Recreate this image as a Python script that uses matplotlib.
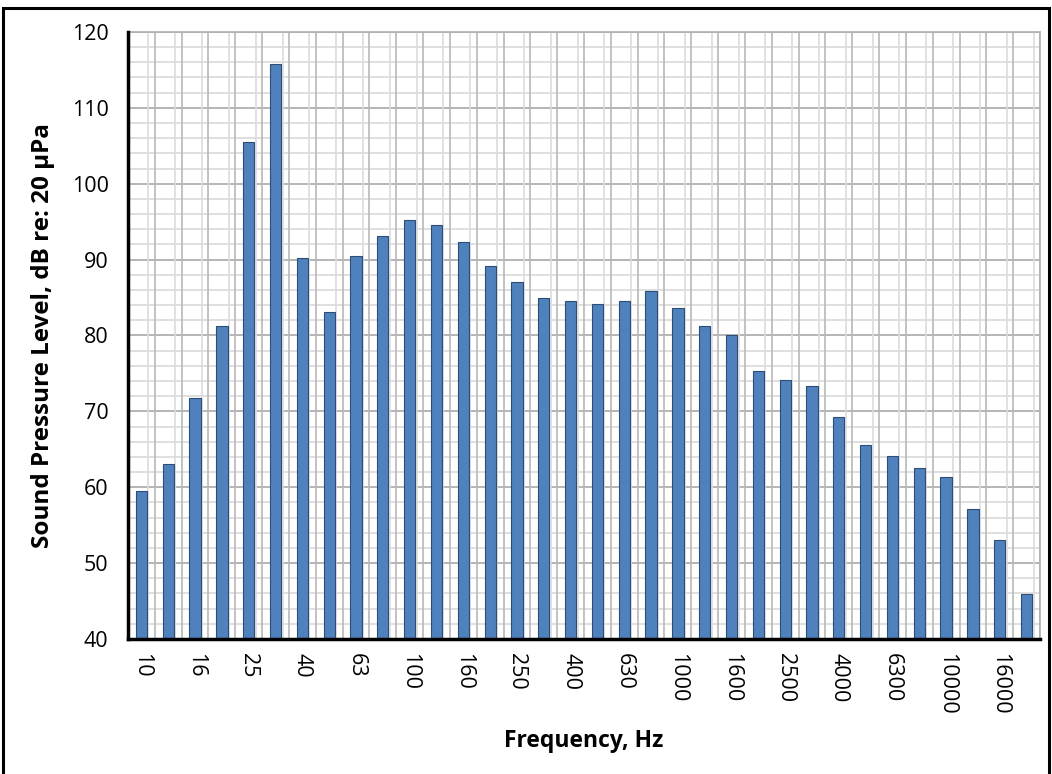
import matplotlib
matplotlib.use("Agg")
import matplotlib.pyplot as plt
from matplotlib.patches import Rectangle
import numpy as np

freqs = ["10", "12.5", "16", "20", "25", "31.5", "40", "50", "63", "80", "100", "125",
         "160", "200", "250", "315", "400", "500", "630", "800", "1000", "1250", "1600",
         "2000", "2500", "3150", "4000", "5000", "6300", "8000", "10000", "12500",
         "16000", "20000"]
spl = [59.5, 63.0, 71.8, 81.3, 105.5, 115.8, 90.2, 83.1, 90.5, 93.1, 95.2, 94.6,
       92.3, 89.1, 87.1, 85.0, 84.6, 84.2, 84.6, 85.8, 83.6, 81.2, 80.0,
       75.3, 74.2, 73.3, 69.2, 65.6, 64.1, 62.5, 61.3, 57.1,
       53.0, 45.9]
y_ticks = [40, 50, 60, 70, 80, 90, 100, 110, 120]

plt.rcParams['font.family'] = ['Open Sans', 'DejaVu Sans']

fig = plt.figure(figsize=(10.52, 7.74), dpi=100)
ax = fig.add_axes([0.1217, 0.1744, 0.9886 - 0.1217, 0.9587 - 0.1744])

x = np.arange(len(freqs))
ax.set_xlim(-0.5, len(freqs) - 0.5)
ax.set_ylim(40, 120)

# grid
for yv in np.arange(40, 121, 2):
    major = (yv % 10 == 0)
    ax.axhline(yv, color='#b0b0b0' if major else '#d9d9d9', lw=1.3 if major else 1.2, zorder=0)
for xb in np.arange(-0.5, len(freqs), 1.0):
    ax.axvline(xb, color='#b8b8b8', lw=1.2, zorder=0)
    ax.axvline(xb - 0.24, color='#dcdcdc', lw=1.2, zorder=0)

ax.bar(x, [v - 40 for v in spl], bottom=40, width=0.42, color='#4f81bd',
       edgecolor='#2c4d75', linewidth=0.8, zorder=3)

ax.set_yticks(y_ticks)
ax.set_yticklabels([str(t) for t in y_ticks], fontsize=15.5)
ax.set_xticks(x[::2])
ax.set_xticklabels(freqs[::2], rotation=270, fontsize=15.5, va='top', ha='center')
ax.tick_params(axis='x', length=0, pad=10)
ax.tick_params(axis='y', length=0, pad=14)

for s in ['top', 'right']:
    ax.spines[s].set_color('#b0b0b0')
    ax.spines[s].set_linewidth(1.2)
for s in ['left', 'bottom']:
    ax.spines[s].set_color('black')
    ax.spines[s].set_linewidth(2.5)
    ax.spines[s].set_zorder(5)

ax.set_ylabel("Sound Pressure Level, dB re: 20 μPa", fontsize=17.5, fontweight='bold', labelpad=12)
ax.set_xlabel("Frequency, Hz", fontsize=16.5, fontweight='bold', labelpad=10)

# outer frame
fig.patches.append(Rectangle((3 / 1052, -0.01), 1046 / 1052, 1 - 8 / 774 + 0.01,
                             transform=fig.transFigure, fill=False, edgecolor='black',
                             linewidth=2.2, zorder=10))

fig.savefig("out.png", dpi=100)
